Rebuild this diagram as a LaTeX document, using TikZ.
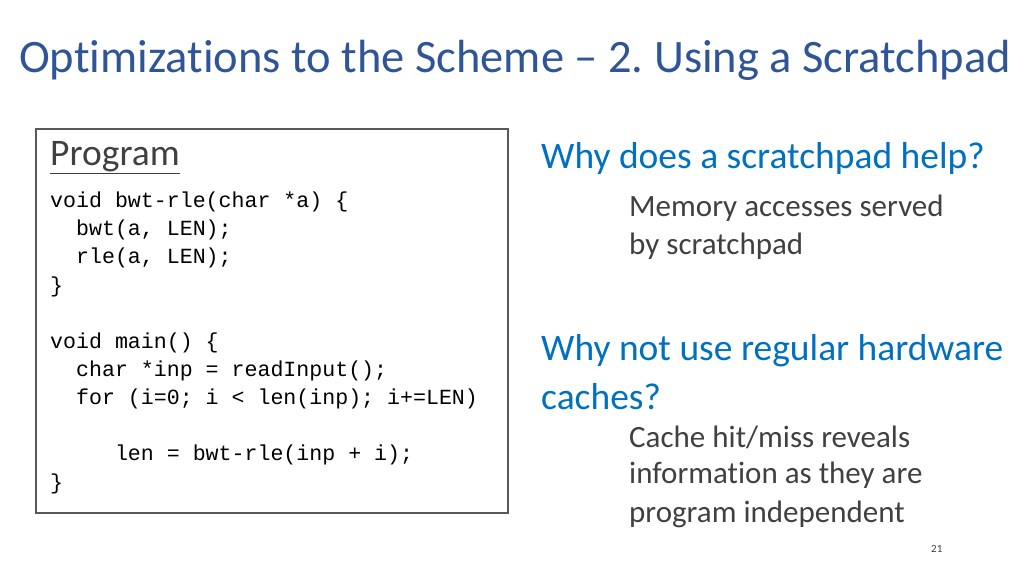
\documentclass[tikz,border=0pt]{standalone}
\usepackage{fontspec}
\setmainfont[Ligatures={NoCommon}]{Carlito}
\setmonofont{Liberation Mono}
\usetikzlibrary{positioning}
\frenchspacing
\definecolor{titleblue}{HTML}{2F5597}
\definecolor{headblue}{HTML}{0070C0}
\definecolor{bodygray}{HTML}{404040}
\tikzset{
  codeline/.style={anchor=west, inner sep=0pt, font=\fontsize{21.6}{26}\selectfont\ttfamily, text=black},
  headline/.style={anchor=west, inner sep=0pt, font=\fontsize{37.5}{42}\selectfont, text=headblue},
  bodyline/.style={anchor=west, inner sep=0pt, font=\fontsize{31}{36}\selectfont, text=bodygray}
}
\begin{document}
\begin{tikzpicture}[x=1pt,y=-1pt]
        \useasboundingbox (0,0) rectangle (1024,576);
        % title
        \node[anchor=west, inner sep=0pt, text=titleblue, font=\fontsize{46.5}{52}\selectfont] (title) at (19,60) {Optimizations to the Scheme -- 2. Using a Scratchpad};
        % program box
        \draw[gray!70!black, line width=1.6pt] (36,129) rectangle (508,513);
        \node[anchor=west, inner sep=0pt, text=bodygray, font=\fontsize{37.5}{42}\selectfont] (prog) at (50,158) {\underline{Program}};
        \node[codeline] (c1) at (50,202) {void bwt-rle(char *a) \{};
        \node[codeline] (c2) at (50,230) {\ \ bwt(a, LEN);};
        \node[codeline] (c3) at (50,258) {\ \ rle(a, LEN);};
        \node[codeline] (c4) at (50,287) {\}};
        \node[codeline] (c5) at (50,343) {void main() \{};
        \node[codeline] (c6) at (50,371) {\ \ char *inp = readInput();};
        \node[codeline] (c7) at (50,399) {\ \ for (i=0; i < len(inp); i+=LEN)};
        \node[codeline] (c8) at (50,455) {\ \ \ \ \ len = bwt-rle(inp + i);};
        \node[codeline] (c9) at (50,484) {\}};
        % right column
        \node[headline] (q1) at (541,158) {Why does a scratchpad help?};
        \node[bodyline] (a1) at (629,208) {Memory accesses served};
        \node[bodyline] (a2) at (629,246) {by scratchpad};
        \node[headline] (q2) at (541,351) {Why not use regular hardware};
        \node[headline] (q3) at (541,397) {caches?};
        \node[bodyline] (b1) at (629,437) {Cache hit/miss reveals};
        \node[bodyline] (b2) at (629,475) {information as they are};
        \node[bodyline] (b3) at (629,514) {program independent};
        \node[anchor=west, inner sep=0pt, text=bodygray, font=\fontsize{11}{13}\selectfont] (page) at (931,549) {21};
\end{tikzpicture}
\end{document}
